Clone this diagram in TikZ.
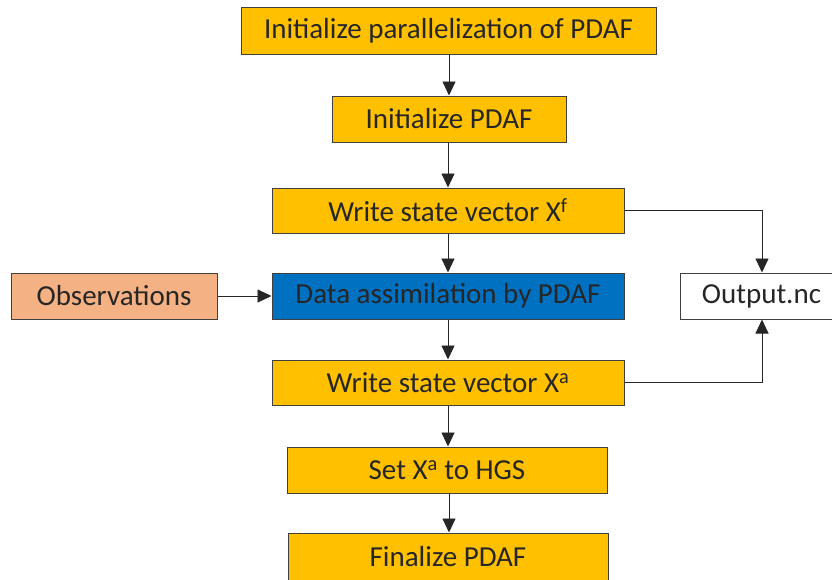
\documentclass[tikz,border=0pt]{standalone}
\usepackage{fontspec}
\setmainfont{Carlito}
\usetikzlibrary{arrows.meta}
\definecolor{boxorange}{HTML}{FFC000}
\definecolor{boxblue}{HTML}{0070C0}
\definecolor{obsorange}{HTML}{F4B183}
\definecolor{edgegray}{HTML}{404040}
\begin{document}
\begin{tikzpicture}[x=1pt,y=-1pt,
  base/.style={draw=edgegray,line width=1pt,inner sep=0pt,minimum height=46pt,
    font=\fontsize{29}{34}\selectfont,text=black!85},
  stepbox/.style={base,fill=boxorange},
  dabox/.style={base,fill=boxblue},
  obsbox/.style={base,fill=obsorange},
  outbox/.style={base,fill=white},
  conn/.style={line width=0.9pt,draw=black!85,-{Triangle[width=13pt,length=14pt]}}]
\clip (0,0) rectangle (832,579);
\node[stepbox,minimum width=415pt,minimum height=47pt] (b1) at (448.5,30.5) {Initialize parallelization of PDAF};
\node[stepbox,minimum width=234pt] (b2) at (449,119) {Initialize PDAF};
\node[stepbox,minimum width=352pt,minimum height=45pt] (b3) at (448,210.5) {Write state vector X\textsuperscript{f}};
\node[dabox,minimum width=352pt] (da) at (448,296) {Data assimilation by PDAF};
\node[obsbox,minimum width=206pt] (obs) at (114,296) {Observations};
\node[outbox,minimum width=163pt] (out) at (761.5,296) {Output.nc};
\node[stepbox,minimum width=352pt,minimum height=45pt] (xa) at (448,382.5) {Write state vector X\textsuperscript{a}};
\node[stepbox,minimum width=320pt] (hgs) at (447,470) {Set X\textsuperscript{a} to HGS};
\node[stepbox,minimum width=320pt,minimum height=47pt] (fin) at (448,556.5) {Finalize PDAF};
\draw[conn] (b1.south -| 449,0) -- (b2.north -| 449,0);
\draw[conn] (b2.south -| 448,0) -- (b3.north -| 448,0);
\draw[conn] (b3) -- (da);
\draw[conn] (da) -- (xa);
\draw[conn] (xa) -- (hgs.north -| xa);
\draw[conn] (hgs.south -| 449,0) -- (fin.north -| 449,0);
\draw[conn] (obs) -- (da);
\draw[conn] (b3.east) -| (out.north -| 762,0);
\draw[conn] (xa.east) -| (out.south -| 762,0);
\end{tikzpicture}
\end{document}
